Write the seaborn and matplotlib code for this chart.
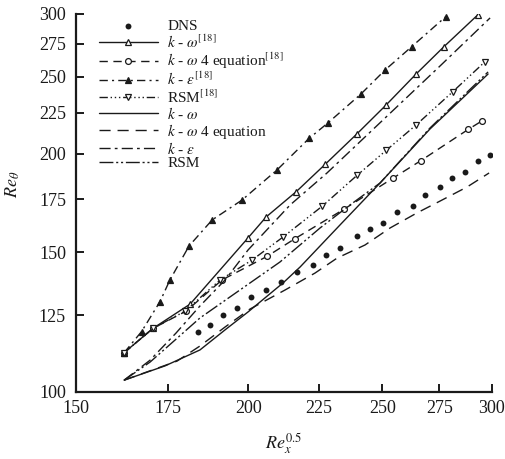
import numpy as np
import pandas as pd
import matplotlib
matplotlib.use("Agg")
import matplotlib.pyplot as plt
import seaborn as sns
from matplotlib.ticker import NullLocator, FixedLocator, FixedFormatter

# ---------------- data ----------------
dns_x = [183.9, 187.6, 191.7, 196.3, 200.9, 206.0, 211.2, 216.9, 222.8, 227.6, 233.0,
         239.7, 245.0, 250.3, 256.2, 263.2, 268.5, 275.3, 280.8, 287.0, 293.3, 299.2]
dns_y = [119.1, 121.5, 125.1, 127.7, 131.8, 134.5, 137.7, 141.7, 144.7, 148.9, 152.0,
         157.4, 160.6, 163.4, 168.8, 171.7, 177.3, 181.5, 186.3, 189.6, 195.7, 199.2]

kw18_x = [162.6, 170.6, 181.5, 199.9, 206.0, 216.6, 227.3, 239.5, 251.6, 264.5, 277.1, 293.1]
kw18_y = [112.1, 120.3, 129.1, 156.5, 166.3, 179.0, 193.8, 211.5, 230.3, 252.0, 272.9, 299.2]

kw4eq18_x = [162.6, 170.6, 180.3, 191.4, 206.3, 216.2, 234.4, 254.4, 266.6, 288.6, 295.2]
kw4eq18_y = [112.1, 120.3, 126.5, 138.5, 148.3, 156.2, 170.0, 186.1, 195.9, 214.6, 219.9]

ke18_x = [162.6, 167.4, 172.6, 175.5, 181.2, 188.3, 197.9, 209.8, 221.3, 228.5, 241.3, 251.2, 262.6, 277.9]
ke18_y = [112.1, 119.2, 130.0, 138.5, 152.9, 164.9, 174.7, 190.7, 209.0, 218.8, 237.8, 255.0, 272.9, 297.7]

rsm18_x = [162.6, 170.7, 180.0, 190.8, 201.3, 211.9, 226.1, 239.7, 251.6, 264.5, 281.2, 296.7]
rsm18_y = [112.1, 120.4, 126.5, 138.5, 146.8, 156.9, 171.5, 187.7, 201.8, 217.3, 239.4, 261.2]

kw_x = [162.6, 174.1, 184.5, 192.4, 199.9, 211.9, 218.0, 233.0, 249.1, 270.7, 298.2]
kw_y = [103.5, 107.9, 113.0, 119.8, 126.2, 137.3, 143.8, 162.5, 183.6, 214.8, 252.0]

kw4eq_x = [162.6, 177.6, 184.5, 192.4, 200.6, 212.6, 223.5, 231.9, 242.9, 253.3, 264.9, 275.3, 288.0, 298.7]
kw4eq_y = [103.5, 109.4, 114.3, 120.8, 127.3, 134.5, 141.3, 147.6, 153.3, 161.1, 168.3, 174.2, 181.5, 189.0]

ke_x = [162.6, 169.8, 177.3, 184.5, 192.4, 199.9, 214.4, 228.0, 251.2, 275.3, 299.2]
ke_y = [103.5, 109.7, 118.7, 128.4, 138.5, 151.1, 172.2, 189.0, 221.8, 258.0, 296.6]

rsm_x = [162.6, 169.8, 177.0, 184.5, 197.2, 210.8, 225.4, 236.9, 249.1, 270.7, 298.2]
rsm_y = [103.5, 109.1, 116.3, 124.0, 134.5, 145.9, 161.1, 172.2, 183.6, 215.4, 253.5]

x_ticks = [150, 175, 200, 225, 250, 275, 300]
y_ticks = [100, 125, 150, 175, 200, 225, 250, 275, 300]

labels = ["DNS",
          r"$k$ - $\omega^{[18]}$",
          r"$k$ - $\omega$ 4 equation$^{[18]}$",
          r"$k$ - $\varepsilon^{[18]}$",
          r"RSM$^{[18]}$",
          r"$k$ - $\omega$",
          r"$k$ - $\omega$ 4 equation",
          r"$k$ - $\varepsilon$",
          "RSM"]

# ---------------- style ----------------
sns.set_theme(style="white")
plt.rcParams["font.family"] = ["Liberation Serif", "DejaVu Serif"]
plt.rcParams["mathtext.fontset"] = "stix"

fig = plt.figure(figsize=(5.06, 4.59), dpi=100)
ax = fig.add_axes([75.7 / 506, 1 - 392 / 459, 416 / 506, 378 / 459])

lw = 1.0
ms = 4.2

sns.scatterplot(x=dns_x, y=dns_y, ax=ax, color="k", marker="o", s=18,
                linewidth=0, label=labels[0], zorder=3)

def line(xs, ys, ls, lab, marker=None, mfc="white"):
    kws = dict(color="k", linewidth=lw, linestyle=ls, label=lab,
               estimator=None, sort=False)
    if marker is not None:
        kws.update(marker=marker, markersize=ms, markerfacecolor=mfc,
                   markeredgecolor="k", markeredgewidth=0.9)
    sns.lineplot(x=xs, y=ys, ax=ax, **kws)

line(kw18_x, kw18_y, "-", labels[1], marker="^")
line(kw4eq18_x, kw4eq18_y, (0, (6, 4)), labels[2], marker="o")
line(ke18_x, ke18_y, (0, (6, 3, 1.5, 3)), labels[3], marker="^", mfc="k")
line(rsm18_x, rsm18_y, (0, (6, 2, 1, 2, 1, 2, 1, 2)), labels[4], marker="v")
line(kw_x, kw_y, "-", labels[5])
line(kw4eq_x, kw4eq_y, (0, (8, 5)), labels[6])
line(ke_x, ke_y, (0, (8, 3, 2, 3)), labels[7])
line(rsm_x, rsm_y, (0, (10, 2, 1.5, 2, 1.5, 2)), labels[8])

ax.set_xscale("log")
ax.set_yscale("log")
ax.set_xlim(150, 300)
ax.set_ylim(100, 300)
ax.xaxis.set_major_locator(FixedLocator(x_ticks))
ax.xaxis.set_major_formatter(FixedFormatter([str(v) for v in x_ticks]))
ax.yaxis.set_major_locator(FixedLocator(y_ticks))
ax.yaxis.set_major_formatter(FixedFormatter([str(v) for v in y_ticks]))
ax.xaxis.set_minor_locator(NullLocator())
ax.yaxis.set_minor_locator(NullLocator())

for side in ["top", "right"]:
    ax.spines[side].set_visible(False)
for side in ["left", "bottom"]:
    ax.spines[side].set_color("k")
    ax.spines[side].set_linewidth(1.6)

ax.tick_params(axis="both", which="major", direction="in", length=6, width=1.4,
               colors="k", labelsize=13, left=True, bottom=True)
ax.tick_params(axis="x", pad=6)
ax.tick_params(axis="y", pad=7)

ax.set_xlabel(r"$Re_x^{0.5}$", fontsize=13, color="k")
ax.set_ylabel(r"$Re_\theta$", fontsize=13, color="k")
ax.xaxis.set_label_coords(0.5, -0.105)
ax.yaxis.set_label_coords(-0.13, 0.55)

leg = ax.legend(loc="upper left", bbox_to_anchor=(0.055, 0.985), frameon=False,
                fontsize=11, labelspacing=0.0, handlelength=3.9,
                handletextpad=0.6, borderaxespad=0, borderpad=0)
for t in leg.get_texts():
    t.set_color("k")

ax.set_facecolor("white")
fig.patch.set_facecolor("white")
fig.savefig("out.png", dpi=100, facecolor="white")
